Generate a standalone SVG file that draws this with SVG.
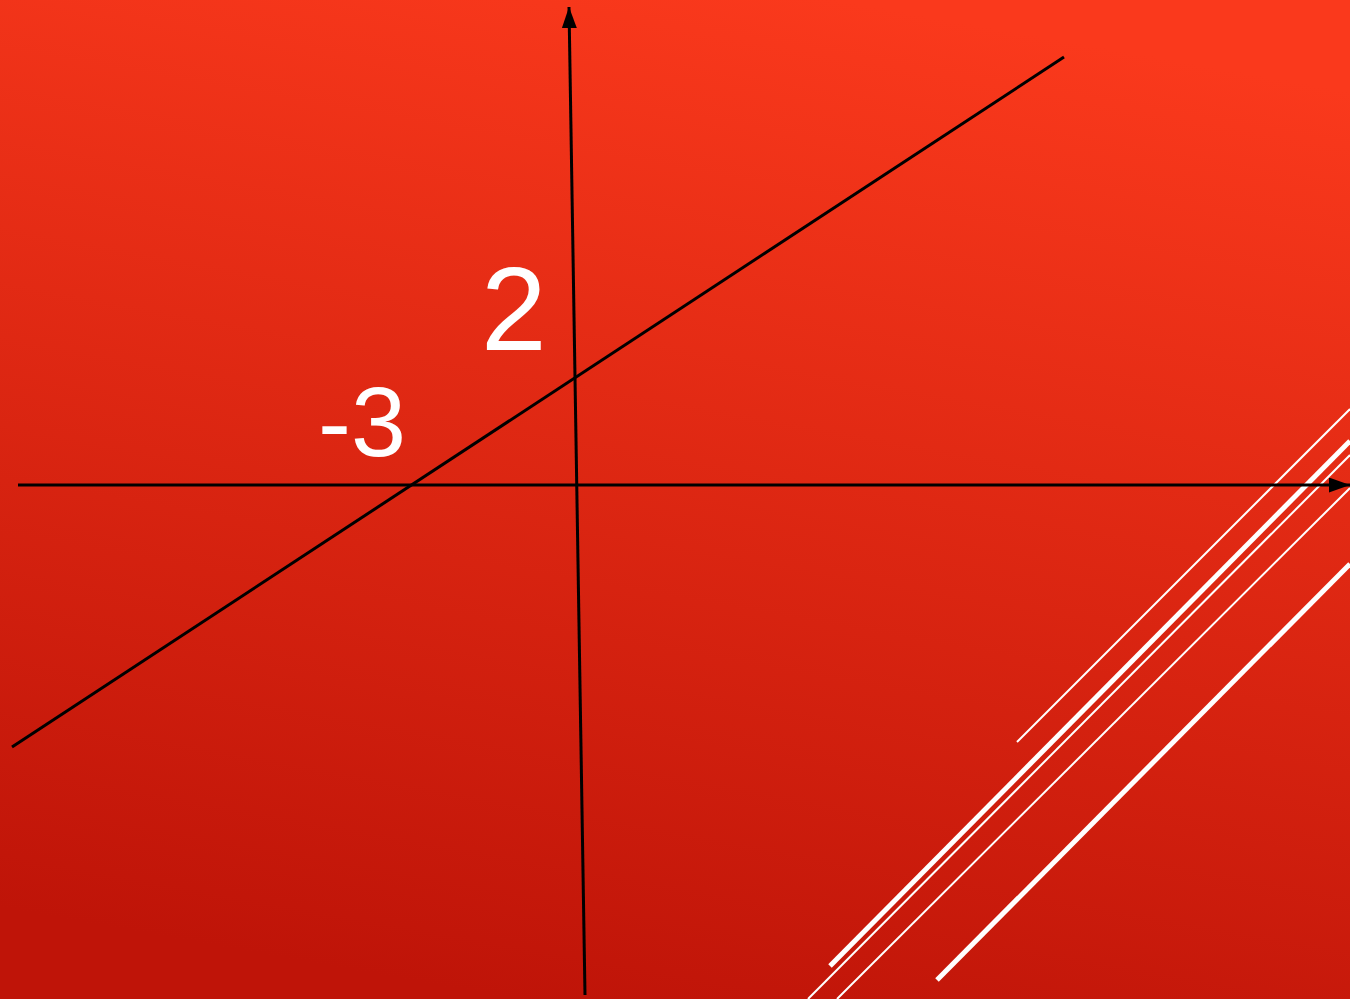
<svg xmlns="http://www.w3.org/2000/svg" width="1350" height="999" viewBox="0 0 1350 999">
<defs>
<linearGradient id="bg" x1="0.62" y1="0" x2="0.38" y2="1">
<stop offset="0" stop-color="#FA391C"/>
<stop offset="1" stop-color="#BF1408"/>
</linearGradient>
<marker id="arr" viewBox="0 0 14 10" refX="14" refY="5" markerWidth="7" markerHeight="5" orient="auto" markerUnits="strokeWidth">
<path d="M0,0 L14,5 L0,10 Z" fill="#000"/>
</marker>
<style>
.axis{stroke:#000;stroke-width:3;fill:none}
.w{stroke:#fff;fill:none}
.lbl{font-family:"Liberation Sans",Arial,sans-serif;fill:#fff}
</style>
</defs>
<rect x="0" y="0" width="1350" height="999" fill="url(#bg)"/>
<g id="decor">
<line class="w" x1="1017" y1="742" x2="1350" y2="409" stroke-width="2"/>
<line class="w" x1="830" y1="966" x2="1350" y2="441" stroke-width="5"/>
<line class="w" x1="808" y1="999" x2="1350" y2="455" stroke-width="2"/>
<line class="w" x1="837" y1="999" x2="1350" y2="488" stroke-width="2"/>
<line class="w" x1="937" y1="980" x2="1350" y2="564" stroke-width="5"/>
</g>
<g id="connectors">
<line class="axis" x1="18" y1="485" x2="1350" y2="485" marker-end="url(#arr)"/>
<line class="axis" x1="585" y1="995" x2="569" y2="7" marker-end="url(#arr)"/>
<line class="axis" x1="12" y1="747" x2="1064" y2="57"/>
</g>
<g id="label-2"><text class="lbl" x="481" y="350" font-size="118">2</text></g>
<g id="label-neg3"><text class="lbl" x="318" y="456" font-size="99">-3</text></g>
</svg>
